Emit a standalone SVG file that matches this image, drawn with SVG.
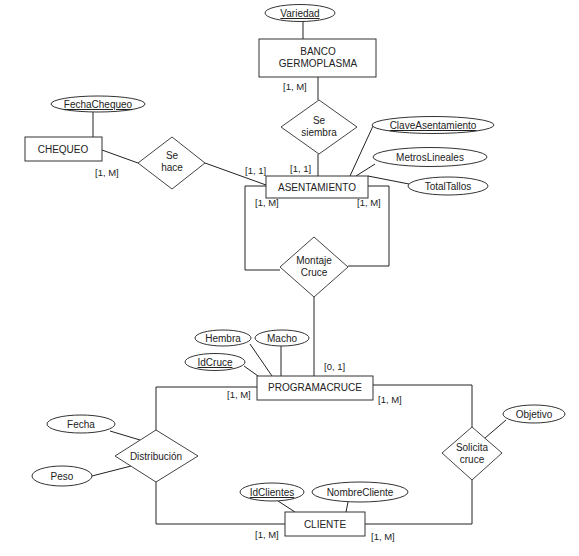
<svg xmlns="http://www.w3.org/2000/svg" width="579" height="556" viewBox="0 0 579 556">
<style>
text{font-family:"Liberation Sans",Arial,sans-serif;font-size:10px;fill:#222;text-anchor:middle}
.ent{fill:#fff;stroke:#333;stroke-width:1}
.rel{fill:#fff;stroke:#444;stroke-width:1}
.att{fill:#fff;stroke:#333;stroke-width:1}
.u{text-decoration:underline}
.card{text-anchor:start;font-size:9.5px}
#connectors line,#connectors polyline{fill:none;stroke:#222;stroke-width:1}
</style>
<rect width="579" height="556" fill="#fff"/>
<g id="connectors">
<line x1="303" y1="21" x2="303" y2="39"/>
<line x1="318" y1="77" x2="318" y2="100"/>
<line x1="318" y1="154" x2="318" y2="176"/>
<line x1="93" y1="112" x2="93" y2="137"/>
<line x1="102" y1="150" x2="138" y2="163"/>
<line x1="205" y1="163" x2="266" y2="185"/>
<line x1="373" y1="126" x2="350" y2="176"/>
<line x1="375" y1="164" x2="356" y2="176"/>
<line x1="368" y1="176" x2="409" y2="184"/>
<polyline points="266,186 245,186 245,270 280,270"/>
<polyline points="368,186 389,186 389,266 348,266"/>
<line x1="314" y1="297" x2="314" y2="376"/>
<line x1="250" y1="344" x2="272" y2="376"/>
<line x1="281" y1="346" x2="281" y2="376"/>
<line x1="244" y1="366" x2="258" y2="376"/>
<polyline points="257,387 156,387 156,430"/>
<polyline points="156,482 156,524 285,524"/>
<polyline points="373,385 472,385 472,427"/>
<polyline points="472,480 472,524 365,524"/>
<line x1="110" y1="431" x2="140" y2="440"/>
<line x1="92" y1="476" x2="131" y2="466"/>
<line x1="506" y1="420" x2="485" y2="438"/>
<line x1="278" y1="501" x2="295" y2="512"/>
<line x1="348" y1="502" x2="346" y2="512"/>
</g>
<g id="Variedad"><ellipse class="att" cx="300" cy="13" rx="35" ry="8.5"/><text x="300" y="17" class="u">Variedad</text></g>
<g id="BancoGermoplasma"><rect class="ent" x="259" y="39" width="117" height="38"/><text x="318" y="55">BANCO</text><text x="318" y="67">GERMOPLASMA</text></g>
<g id="SeSiembra"><polygon class="rel" points="319,100 357,127 319,154 281,127"/><text x="319" y="124">Se</text><text x="319" y="136">siembra</text></g>
<g id="FechaChequeo"><ellipse class="att" cx="98" cy="104" rx="47" ry="8"/><text x="98" y="108" class="u">FechaChequeo</text></g>
<g id="Chequeo"><rect class="ent" x="25" y="137" width="77" height="24"/><text x="63" y="153">CHEQUEO</text></g>
<g id="SeHace"><polygon class="rel" points="172,137 205,163 172,189 138,163"/><text x="172" y="159">Se</text><text x="172" y="171">hace</text></g>
<g id="ClaveAsentamiento"><ellipse class="att" cx="433" cy="125" rx="61" ry="8.5"/><text x="433" y="129" class="u">ClaveAsentamiento</text></g>
<g id="MetrosLineales"><ellipse class="att" cx="430" cy="157" rx="57" ry="9.5"/><text x="430" y="161">MetrosLineales</text></g>
<g id="TotalTallos"><ellipse class="att" cx="448" cy="186" rx="40" ry="9"/><text x="448" y="190">TotalTallos</text></g>
<g id="Asentamiento"><rect class="ent" x="266" y="176" width="102" height="22"/><text x="317" y="191">ASENTAMIENTO</text></g>
<g id="MontajeCruce"><polygon class="rel" points="314,237 348,267 314,297 280,267"/><text x="314" y="264">Montaje</text><text x="314" y="276">Cruce</text></g>
<g id="Hembra"><ellipse class="att" cx="223" cy="338" rx="28" ry="8"/><text x="223" y="342">Hembra</text></g>
<g id="Macho"><ellipse class="att" cx="282" cy="338" rx="27" ry="8"/><text x="282" y="342">Macho</text></g>
<g id="IdCruce"><ellipse class="att" cx="215" cy="362" rx="30" ry="8.5"/><text x="215" y="366" class="u">IdCruce</text></g>
<g id="ProgramaCruce"><rect class="ent" x="257" y="376" width="116" height="24"/><text x="315" y="391">PROGRAMACRUCE</text></g>
<g id="Fecha"><ellipse class="att" cx="81" cy="424" rx="34" ry="9"/><text x="81" y="428">Fecha</text></g>
<g id="Peso"><ellipse class="att" cx="62" cy="476" rx="30" ry="10"/><text x="62" y="480">Peso</text></g>
<g id="Distribucion"><polygon class="rel" points="156,430 198,456 156,482 115,456"/><text x="156" y="460">Distribución</text></g>
<g id="Objetivo"><ellipse class="att" cx="534" cy="414" rx="31" ry="9"/><text x="534" y="418">Objetivo</text></g>
<g id="SolicitaCruce"><polygon class="rel" points="472,427 502,453 472,480 442,453"/><text x="472" y="451">Solicita</text><text x="472" y="463">cruce</text></g>
<g id="IdClientes"><ellipse class="att" cx="272" cy="492" rx="32" ry="9"/><text x="272" y="496" class="u">IdClientes</text></g>
<g id="NombreCliente"><ellipse class="att" cx="360" cy="492" rx="48" ry="10"/><text x="360" y="496">NombreCliente</text></g>
<g id="Cliente"><rect class="ent" x="285" y="512" width="80" height="24"/><text x="325" y="528">CLIENTE</text></g>
<g id="cardinalities">
<text class="card" x="283" y="90">[1, M]</text>
<text class="card" x="290" y="172">[1, 1]</text>
<text class="card" x="245" y="174">[1, 1]</text>
<text class="card" x="95" y="176">[1, M]</text>
<text class="card" x="255" y="206">[1, M]</text>
<text class="card" x="357" y="206">[1, M]</text>
<text class="card" x="324" y="370">[0, 1]</text>
<text class="card" x="227" y="398">[1, M]</text>
<text class="card" x="378" y="403">[1, M]</text>
<text class="card" x="255" y="538">[1, M]</text>
<text class="card" x="371" y="540">[1, M]</text>
</g>
</svg>
